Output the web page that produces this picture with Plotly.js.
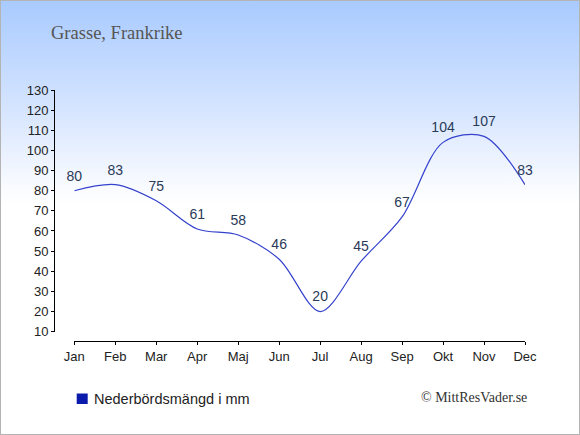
<!DOCTYPE html>
<html>
<head>
<meta charset="utf-8">
<script src="https://cdn.plot.ly/plotly-3.0.1.min.js"></script>
<style>
html,body{margin:0;padding:0;background:#fff;}
#wrap{position:relative;width:580px;height:435px;background:linear-gradient(to bottom,#a8caff 0px,#d6e5ff 110px,#f6f9ff 180px,#ffffff 205px,#ffffff 435px);box-shadow:inset 0 0 0 1px #b4b4b4;}
#chart{position:absolute;left:0;top:0;width:580px;height:435px;}
</style>
</head>
<body>
<div id="wrap"><div id="chart"></div></div>
<script>
var months = ["Jan","Feb","Mar","Apr","Maj","Jun","Jul","Aug","Sep","Okt","Nov","Dec"];
var precipitation = [80,83,75,61,58,46,20,45,67,104,107,83];
var yTicks = [10,20,30,40,50,60,70,80,90,100,110,120,130];
var chartTitle = "Grasse, Frankrike";
var seriesName = "Nederbördsmängd i mm";
var credit = "© MittResVader.se";

var xIdx = months.map(function(m,i){return i;});
var sans = "Liberation Sans, Arial, sans-serif";
var serif = "Liberation Serif, Georgia, serif";

var trace = {
  x: xIdx, y: precipitation, type: "scatter", mode: "lines+markers+text",
  line: {color: "#3442cc", width: 1.2, shape: "spline", smoothing: 0.9},
  marker: {size: 9, color: "rgba(0,0,0,0)"},
  text: precipitation.map(String), textposition: "top center",
  textfont: {family: sans, size: 14, color: "#2a3a58"},
  showlegend: false, hoverinfo: "skip", cliponaxis: false
};

var layout = {
  width: 580, height: 435,
  margin: {l: 54, r: 55, t: 90, b: 94, pad: 0},
  paper_bgcolor: "rgba(0,0,0,0)", plot_bgcolor: "rgba(0,0,0,0)",
  showlegend: false,
  title: {text: chartTitle, x: 51/580, xanchor: "left", xref: "container",
          y: 1 - 33/435, yanchor: "middle", yref: "container",
          font: {family: serif, size: 18.5, color: "#555555"}},
  xaxis: {domain: [20.3/471, 1], range: [0, 11], anchor: "free", position: 0,
          tickvals: xIdx, ticktext: months, ticks: "outside", ticklen: 3, tickcolor: "#000",
          showline: true, linecolor: "#000", linewidth: 1, showgrid: false, zeroline: false,
          tickfont: {family: sans, size: 13, color: "#222"}, fixedrange: true},
  xaxis2: {domain: [20.3/471, 1], range: [0, 11], anchor: "free", position: 0, overlaying: "x",
          tickvals: xIdx, ticks: "inside", ticklen: 3, tickcolor: "#000", showticklabels: false,
          showline: false, showgrid: false, zeroline: false},
  yaxis: {domain: [9.3/251, 1], range: [10, 130], anchor: "free", position: 0,
          tickvals: yTicks, ticks: "outside", ticklen: 3, tickcolor: "#000",
          showline: true, linecolor: "#000", linewidth: 1, showgrid: false, zeroline: false,
          tickfont: {family: sans, size: 13, color: "#222"}, fixedrange: true},
  yaxis2: {domain: [9.3/251, 1], range: [10, 130], anchor: "free", position: 0, overlaying: "y",
          tickvals: yTicks, ticks: "inside", ticklen: 3, tickcolor: "#000", showticklabels: false,
          showline: false, showgrid: false, zeroline: false},
  shapes: [
    {type: "rect", xref: "paper", yref: "paper",
     x0: (76.7-54)/471, x1: (87.7-54)/471, y0: (341-393.5)/251, y1: (341-404)/251,
     fillcolor: "#0a1aaa", line: {width: 0}}
  ],
  annotations: [
    {text: seriesName, xref: "paper", yref: "paper", x: (92-54)/471, y: (341-398.5)/251,
     xanchor: "left", yanchor: "middle", showarrow: false,
     font: {family: sans, size: 14.5, color: "#222"}},
    {text: credit, xref: "paper", yref: "paper", x: (529-54)/471, y: (341-397)/251,
     xanchor: "right", yanchor: "middle", showarrow: false,
     font: {family: serif, size: 14, color: "#333"}}
  ]
};

Plotly.newPlot("chart", [trace], layout, {displayModeBar: false, staticPlot: true});
</script>
</body>
</html>
